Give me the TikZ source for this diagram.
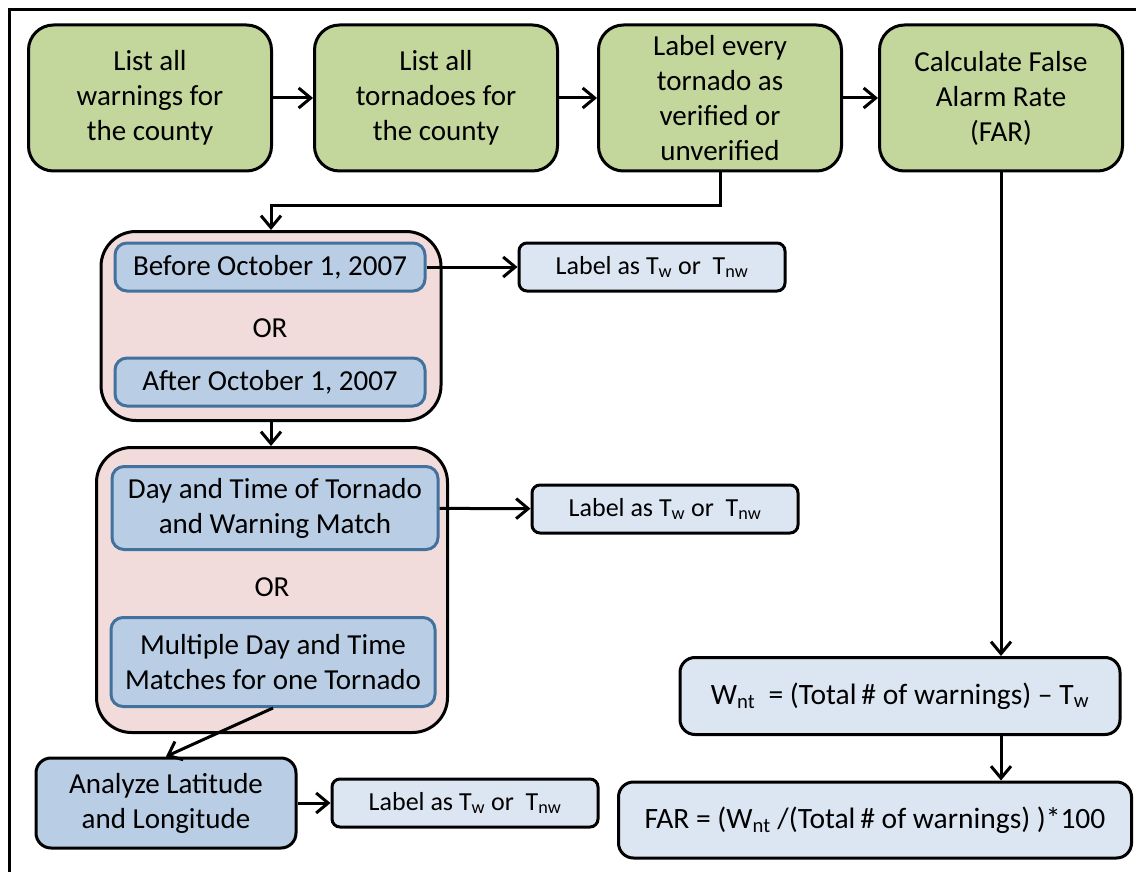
\documentclass[tikz,border=0pt]{standalone}
\usepackage{fontspec}
\setmainfont{Carlito}
\usetikzlibrary{arrows.meta}
\definecolor{stepgreen}{HTML}{C3D69B}
\definecolor{grouppink}{HTML}{F2DCDB}
\definecolor{testblue}{HTML}{B9CDE5}
\definecolor{testline}{HTML}{41719C}
\definecolor{lightblue}{HTML}{DCE6F2}

\begin{document}
\begin{tikzpicture}[x=1pt,y=-1pt,
    every node/.style={align=center, inner sep=2pt},
    greenbox/.style={draw, line width=3pt, fill=stepgreen, rounded corners=25pt,
      minimum width=243pt, minimum height=146pt, font=\fontsize{29}{35}\selectfont},
    pinkbox/.style={draw, line width=3pt, fill=grouppink, rounded corners=35pt},
    testbox/.style={draw=testline, line width=3pt, fill=testblue, rounded corners=12pt,
      font=\fontsize{29}{35}\selectfont},
    labelbox/.style={draw, line width=3pt, fill=lightblue, rounded corners=8pt,
      minimum width=266pt, minimum height=48pt, font=\fontsize{26}{32}\selectfont},
    calcbox/.style={draw, line width=3pt, fill=lightblue, rounded corners=15pt,
      font=\fontsize{29.5}{35}\selectfont},
    ortext/.style={font=\fontsize{29}{35}\selectfont},
    arr/.style={line width=3pt, -{Straight Barb[length=12pt,width=20pt]}}]
    \clip (0,0) rectangle (1136,872);
    \draw[line width=3pt] (9,10) rectangle (1150,890);

    \node[greenbox] (warn) at (150,98) {List all\\warnings for\\the county};
    \node[greenbox] (torn) at (436,98) {List all\\tornadoes for\\the county};
    \node[greenbox] (verif) at (720,98) {Label every\\tornado as\\verified or\\unverified};
    \node[greenbox] (far) at (1001,98) {Calculate False\\Alarm Rate\\(FAR)};

    \node[pinkbox, minimum width=340pt, minimum height=189pt] (datebox) at (271,326) {};
    \node[testbox, minimum width=310pt, minimum height=48pt] (before) at (270,267) {Before October 1, 2007};
    \node[ortext] (or1) at (270,328) {OR};
    \node[testbox, minimum width=310pt, minimum height=48pt] (after) at (270,382) {After October 1, 2007};
    \node[labelbox] (tw1) at (652,267) {Label as T\textsubscript{w} or\ \ T\textsubscript{nw}};

    \node[pinkbox, minimum width=351pt, minimum height=285pt] (matchbox) at (272,590) {};
    \node[testbox, minimum width=326pt, minimum height=83pt] (daytime) at (275,508) {Day and Time of Tornado\\and Warning Match};
    \node[ortext] (or2) at (272,587) {OR};
    \node[testbox, minimum width=324pt, minimum height=89pt] (multi) at (273,662) {Multiple Day and Time\\Matches for one Tornado};
    \node[labelbox] (tw2) at (665,509) {Label as T\textsubscript{w} or\ \ T\textsubscript{nw}};

    \node[testbox, draw=black, minimum width=260pt, minimum height=90pt, rounded corners=15pt]
      (latlon) at (166,803) {Analyze Latitude\\and Longitude};
    \node[labelbox] (tw3) at (465,803) {Label as T\textsubscript{w} or\ \ T\textsubscript{nw}};

    \node[calcbox, minimum width=440pt, minimum height=77pt] (wnt) at (900,696) {W\textsubscript{nt}\ \ = (Total\,\# of warnings) -- T\textsubscript{w}};
    \node[calcbox, minimum width=513pt, minimum height=76pt] (farcalc) at (875,820) {FAR = (W\textsubscript{nt}\ /(Total\,\# of warnings) )*100};

    \draw[arr] (warn) -- (torn);
    \draw[arr] (torn) -- (verif);
    \draw[arr] (verif) -- (far);
    \draw[arr] (verif.south) -- ++(0,33) -| (datebox.north);
    \draw[arr] (before) -- (tw1);
    \draw[arr] (datebox.south) -- (datebox.south |- matchbox.north);
    \draw[arr] (daytime) -- (tw2);
    \draw[arr] (multi.south) -- (latlon.north);
    \draw[arr] (latlon) -- (tw3);
    \draw[arr] (far.south) -- (far.south |- wnt.north);
    \draw[arr] (far.south |- wnt.south) -- (far.south |- farcalc.north);
\end{tikzpicture}
\end{document}
